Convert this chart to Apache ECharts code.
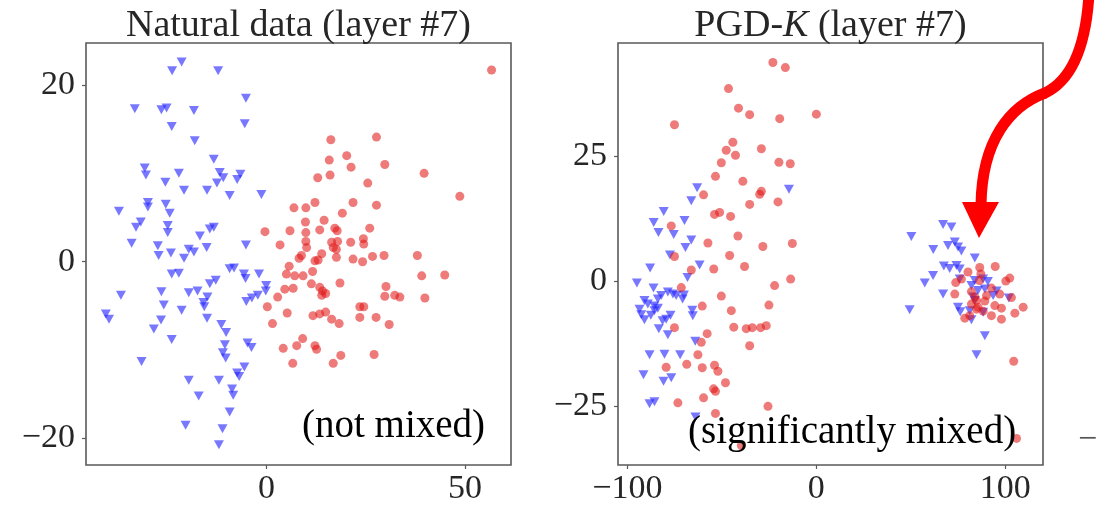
<!DOCTYPE html>
<html>
<head>
<meta charset="utf-8">
<title>Natural data vs PGD-K (layer #7)</title>
<script src="https://cdn.jsdelivr.net/npm/echarts@6/dist/echarts.min.js"></script>
<style>
  html, body { margin: 0; padding: 0; background: #ffffff; }
  #chart { width: 1115px; height: 506px; }
</style>
</head>
<body>
<div id="chart"></div>
<script>
// ---- t-SNE embeddings of layer #7 features, two classes per panel ----
// Natural data: class A (blue, triangles) and class B (red, circles)
const naturalBlue = [
  [-21.4, 22.6], [-23.8, 21.6], [-12.2, 21.6], [-5.2, 18.5], [-33.2, 17.3], [-26.5, 17.2],
  [-25.2, 17.4], [-18.3, 17.1], [-23.9, 15.3], [-5.5, 15.6], [-18.1, 13.7], [-13.3, 11.6],
  [-30.7, 10.6], [-30.4, 9.8], [-22.1, 10.0], [-11.8, 10.1], [-10.9, 9.5], [-6.6, 9.9],
  [-7.4, 9.3], [-25.5, 9.0], [-12.5, 8.9], [-20.8, 8.1], [-15.0, 8.1], [-9.3, 7.5],
  [-1.3, 7.6], [-29.9, 6.7], [-29.9, 6.2], [-37.2, 5.7], [-25.4, 6.5], [-24.4, 5.5],
  [-31.7, 4.5], [-32.9, 3.9], [-24.9, 4.1], [-24.9, 3.3], [-13.3, 3.9], [-14.3, 3.7],
  [-16.8, 2.9], [-34.0, 2.1], [-27.4, 1.8], [-24.1, 1.0], [-19.6, 1.4], [-18.3, 1.1],
  [-15.1, 1.6], [-5.2, 1.9], [-27.2, 0.7], [-20.8, 0.4], [-9.3, -0.8], [-8.2, -0.7],
  [-5.7, -1.4], [-5.3, -1.9], [-1.9, -1.4], [-23.9, -1.4], [-22.1, -1.3], [-12.8, -2.1],
  [-14.3, -2.5], [-0.1, -2.7], [-0.2, -3.3], [-2.2, -3.8], [-3.7, -4.1], [-5.1, -4.5],
  [-36.7, -3.8], [-26.5, -3.4], [-19.6, -3.5], [-17.4, -3.3], [-14.9, -4.0], [-15.9, -4.6],
  [-15.7, -5.1], [-25.9, -4.9], [-21.4, -5.5], [-40.5, -5.9], [-39.7, -6.5], [-15.0, -6.4],
  [-26.6, -6.6], [-28.4, -7.6], [-11.4, -7.1], [-10.2, -8.0], [-23.9, -8.8], [-4.8, -9.2],
  [-3.8, -9.7], [-10.5, -9.4], [-11.0, -10.3], [-10.3, -10.9], [-31.5, -11.3], [-7.4, -12.6],
  [-5.6, -11.9], [-6.9, -13.0], [-19.6, -13.4], [-12.0, -13.4], [-17.1, -15.2], [-8.7, -14.4],
  [-8.4, -15.1], [-9.3, -17.0], [-20.4, -18.5], [-11.1, -18.9], [-12.0, -20.7]
];
const naturalRed = [
  [56.7, 21.7], [16.2, 13.8], [27.7, 14.1], [20.2, 12.0], [15.8, 11.5], [21.3, 10.7],
  [29.8, 11.0], [39.7, 10.0], [12.9, 9.5], [16.0, 9.8], [25.5, 8.9], [48.7, 7.4],
  [6.9, 6.1], [9.9, 6.1], [12.2, 6.7], [21.8, 6.7], [27.7, 6.4], [19.1, 5.5],
  [9.8, 4.5], [14.5, 4.7], [-0.4, 3.4], [5.9, 3.5], [9.9, 3.3], [13.4, 3.6],
  [17.2, 3.8], [17.8, 3.5], [26.0, 3.8], [3.4, 1.9], [10.1, 1.6], [9.9, 2.3],
  [16.4, 2.2], [17.9, 2.3], [16.8, 1.6], [17.6, 1.4], [21.2, 2.2], [24.4, 2.6],
  [24.5, 2.0], [8.8, 0.7], [8.2, 0.4], [12.2, 0.1], [13.9, 0.9], [13.0, 0.2],
  [17.6, 0.5], [21.8, 0.3], [24.2, 0.0], [26.7, 0.6], [29.6, 0.7], [38.0, 0.7],
  [5.7, -0.5], [5.0, -1.4], [11.6, -1.1], [7.1, -1.6], [9.2, -1.6], [39.1, -1.6],
  [44.9, -1.5], [4.6, -3.1], [6.7, -3.0], [11.3, -2.5], [13.4, -2.9], [14.1, -3.3],
  [13.9, -3.8], [14.9, -3.6], [18.5, -2.4], [30.1, -2.8], [29.8, -3.9], [32.3, -3.8],
  [33.6, -4.0], [39.9, -4.1], [2.8, -4.0], [0.2, -5.1], [5.2, -5.8], [11.7, -6.1],
  [13.4, -5.9], [14.9, -5.7], [16.4, -6.5], [18.3, -7.0], [23.5, -5.1], [24.5, -5.1],
  [23.5, -6.3], [27.6, -6.3], [30.9, -7.1], [1.5, -7.0], [4.2, -9.8], [7.6, -9.5],
  [9.1, -8.7], [12.2, -9.5], [12.6, -9.9], [6.6, -11.5], [18.7, -10.6], [16.8, -11.5],
  [27.1, -10.5]
];

// PGD-K adversarial data: same two classes
const pgdBlue = [
  [-63.1, 18.6], [-66.2, 16.0], [-14.5, 18.3], [-80.8, 13.9], [-86.1, 11.7], [-83.6, 9.7],
  [-69.8, 12.1], [-75.5, 9.3], [-66.2, 8.2], [-69.3, 6.7], [-77.5, 5.2], [-88.0, 2.6],
  [-61.8, 3.2], [-68.2, 0.7], [-95.0, -0.4], [-86.2, -1.4], [-78.6, -2.2], [-75.9, -2.6],
  [-74.2, -2.9], [-82.1, -2.9], [-83.9, -3.6], [-70.1, -2.8], [-91.0, -3.9], [-89.2, -4.6],
  [-93.6, -5.6], [-92.7, -6.7], [-91.0, -7.7], [-85.7, -5.9], [-83.9, -5.4], [-79.5, -7.6],
  [-77.2, -6.8], [-83.4, -9.5], [-78.6, -10.7], [-65.7, -5.8], [-65.4, -6.9], [-64.1, -12.0],
  [-88.3, -14.7], [-80.4, -14.6], [-72.1, -14.7], [-91.5, -18.7], [-80.9, -20.0], [-76.8, -19.3],
  [-88.3, -24.5], [-85.7, -24.1], [-64.0, -27.1], [-70.8, -3.6], [-85.8, -5.0], [-87.6, -6.8],
  [-81.4, -7.9],
  [50.3, 8.9], [67.1, 11.3], [71.5, 10.8], [61.9, 6.3], [69.7, 7.1], [73.3, 7.8],
  [75.0, 6.8], [76.8, 6.0], [83.9, 4.6], [67.5, 3.0], [70.6, 2.5], [74.2, 3.1],
  [75.9, 2.4], [61.8, 1.1], [57.4, -0.4], [75.9, 0.4], [82.1, -0.9], [83.9, 0.1],
  [88.3, 0.4], [90.8, -0.1], [85.6, -1.9], [89.2, -1.6], [95.4, -2.0], [67.1, -2.6],
  [93.6, -2.9], [101.9, -3.4], [75.0, -5.2], [76.2, -6.1], [82.1, -7.7], [83.0, -3.2],
  [83.9, -3.9], [88.3, -6.2], [49.4, -5.7], [89.2, -10.9], [84.8, -14.7], [81.2, -5.9]
];
const pgdRed = [
  [-23.0, 43.6], [-16.4, 42.6], [-46.5, 38.4], [-41.2, 34.5], [-35.3, 33.2], [-19.4, 32.4],
  [0.0, 33.3], [-75.1, 31.2], [-44.2, 27.7], [-47.7, 26.1], [-42.8, 25.1], [-29.1, 26.4],
  [-19.8, 23.7], [-13.8, 23.4], [-50.3, 23.6], [-53.4, 20.9], [-38.9, 19.9], [-30.0, 17.3],
  [-29.1, 17.9], [-59.7, 17.2], [-20.3, 15.8], [-35.3, 15.3], [-53.9, 13.3], [-51.2, 13.7],
  [-45.4, 12.9], [-76.8, 11.0], [-41.5, 9.0], [-57.4, 7.6], [-28.3, 6.9], [-12.7, 7.5],
  [-45.9, 5.1], [-75.1, 4.9], [-54.3, 2.4], [-66.2, 2.2], [-38.0, 2.9], [-13.6, 0.4],
  [-22.1, -0.9], [-71.5, -1.3], [-50.3, -3.0], [-60.4, -5.0], [-45.0, -5.9], [-25.1, -4.8],
  [-75.1, -9.3], [-57.8, -10.5], [-43.7, -9.2], [-37.1, -9.5], [-33.9, -9.3], [-29.5, -9.3],
  [-26.5, -8.9], [-35.3, -12.9], [-60.9, -12.2], [-62.7, -14.7], [-79.5, -17.2], [-68.6, -16.6],
  [-60.4, -17.3], [-53.9, -16.8], [-52.1, -18.0], [-48.1, -20.3], [-54.4, -21.5], [-53.4, -22.0],
  [-59.7, -23.3], [-73.3, -24.3], [-25.6, -25.0], [-53.4, -26.4], [-39.7, -32.8],
  [86.5, 2.7], [94.7, 2.9], [80.3, 1.8], [87.1, 1.4], [86.3, 0.1], [100.3, 0.0],
  [102.4, 0.6], [73.8, -0.3], [76.8, 0.4], [73.3, -2.6], [82.1, -2.1], [83.9, -3.2],
  [84.8, -3.9], [90.1, -2.9], [92.7, -1.4], [103.3, -3.3], [84.8, -5.6], [88.3, -6.0],
  [89.2, -4.0], [94.5, -4.9], [98.0, -5.4], [92.7, -6.9], [78.6, -7.4], [98.0, -7.6],
  [105.1, -6.4], [109.5, -5.2], [81.2, -6.9], [82.1, -4.6], [85.6, -5.2], [104.5, -16.0],
  [106.0, -31.4], [97.1, -2.6]
];

// Tick positions shown on each axis
const naturalXTicks = [0, 50];
const naturalYTicks = [-20, 0, 20];
const pgdXTicks = [-100, 0, 100];
const pgdYTicks = [-25, 0, 25];

const panelTitles = ['Natural data (layer #7)', 'PGD-{i|K} (layer #7)'];
const panelNotes = ['(not mixed)', '(significantly mixed)'];

const SERIF = '"Liberation Serif", "Times New Roman", serif';
const FRAME = '#5a5a5a';
const BLUE = 'rgba(30, 30, 255, 0.75)';
const RED = 'rgba(225, 25, 25, 0.72)';

// LaTeX-style minus sign in tick labels
const fmtTick = v => (v < 0 ? '\u2212' + Math.abs(v) : String(v));

function axisFor(gridIndex, min, max, ticks, labelMargin) {
  return {
    type: 'value', gridIndex, min, max,
    axisLine: { show: false, onZero: false },
    splitLine: { show: false },
    axisTick: { show: true, customValues: ticks, length: 4, lineStyle: { color: FRAME, width: 1.2 } },
    axisLabel: {
      customValues: ticks, formatter: fmtTick, margin: labelMargin,
      fontFamily: SERIF, fontSize: 34, color: '#262626'
    }
  };
}

function scatter(name, data, idx, isTriangle) {
  return {
    name, type: 'scatter', data,
    xAxisIndex: idx, yAxisIndex: idx,
    symbol: isTriangle ? 'triangle' : 'circle',
    symbolRotate: isTriangle ? 180 : 0,
    symbolSize: isTriangle ? [10, 9] : 9,
    itemStyle: { color: isTriangle ? BLUE : RED },
    silent: true
  };
}

const chart = echarts.init(document.getElementById('chart'), null, { renderer: 'canvas' });

chart.setOption({
  backgroundColor: '#ffffff',
  animation: false,
  grid: [
    { left: 86, top: 43, width: 425, height: 424, show: true, borderColor: FRAME, borderWidth: 1.6, backgroundColor: 'transparent' },
    { left: 618, top: 43, width: 425, height: 424, show: true, borderColor: FRAME, borderWidth: 1.6, backgroundColor: 'transparent' }
  ],
  xAxis: [
    axisFor(0, -45.5, 61.6, naturalXTicks, 7),
    axisFor(1, -105, 120, pgdXTicks, 7)
  ],
  yAxis: [
    axisFor(0, -23, 24.75, naturalYTicks, 11),
    axisFor(1, -36.7, 47.5, pgdYTicks, 11)
  ],
  series: [
    scatter('natural-blue', naturalBlue, 0, true),
    scatter('natural-red', naturalRed, 0, false),
    scatter('pgd-blue', pgdBlue, 1, true),
    scatter('pgd-red', pgdRed, 1, false)
  ],
  graphic: [
    // panel titles
    { type: 'text', x: 298.5, y: 26, silent: true,
      style: { text: panelTitles[0], font: '38px ' + SERIF, fill: '#262626', align: 'center', verticalAlign: 'middle' } },
    { type: 'text', x: 830.5, y: 26, silent: true,
      style: { text: panelTitles[1], font: '38px ' + SERIF, fill: '#262626', align: 'center', verticalAlign: 'middle',
        rich: { i: { fontStyle: 'italic', fontFamily: SERIF, fontSize: 38, fill: '#262626' } } } },
    // in-panel notes
    { type: 'text', x: 302, y: 427, silent: true, z: 10,
      style: { text: panelNotes[0], font: '39px ' + SERIF, fill: '#000000', align: 'left', verticalAlign: 'middle' } },
    { type: 'text', x: 688, y: 433, silent: true, z: 10,
      style: { text: panelNotes[1], font: '39px ' + SERIF, fill: '#000000', align: 'left', verticalAlign: 'middle' } },
    // curved pointer into the mixed cluster
    { type: 'bezierCurve', silent: true, z: 20,
      shape: { x1: 1089, y1: -6, cpx1: 1086, cpy1: 45, cpx2: 1072, cpy2: 80, x2: 1045, y2: 93 },
      style: { fill: null, stroke: '#ff0000', lineWidth: 11, lineCap: 'round' } },
    { type: 'bezierCurve', silent: true, z: 20,
      shape: { x1: 1045, y1: 93, cpx1: 1010, cpy1: 106, cpx2: 982, cpy2: 140, x2: 981, y2: 205 },
      style: { fill: null, stroke: '#ff0000', lineWidth: 11, lineCap: 'butt' } },
    { type: 'polygon', silent: true, z: 20,
      shape: { points: [[962, 202], [999, 202], [979, 238]] },
      style: { fill: '#ff0000' } },
    // edge of the neighbouring panel's tick label
    { type: 'text', x: 1078, y: 440, silent: true,
      style: { text: '\u2212', font: '34px ' + SERIF, fill: '#555555', align: 'left', verticalAlign: 'middle' } }
  ]
});
</script>
</body>
</html>
